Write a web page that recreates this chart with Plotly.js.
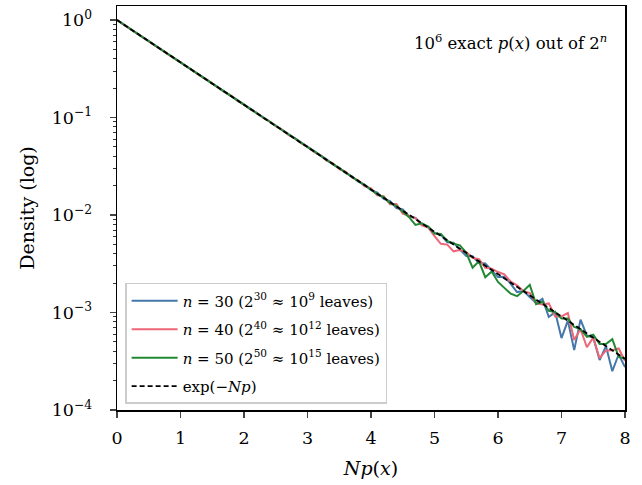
<!DOCTYPE html>
<html>
<head>
<meta charset="utf-8">
<script src="https://cdn.plot.ly/plotly-3.0.1.min.js"></script>
<style>html,body{margin:0;padding:0;background:#fff;}#chart{width:642px;height:485px;}</style>
</head>
<body>
<div id="chart"></div>
<script>
// x grid: Np(x)
const npx = [0,0.1,0.2,0.3,0.4,0.5,0.6,0.7,0.8,0.9,1,1.1,1.2,1.3,1.4,1.5,1.6,1.7,1.8,1.9,2,2.1,2.2,2.3,2.4,2.5,2.6,2.7,2.8,2.9,3,3.1,3.2,3.3,3.4,3.5,3.6,3.7,3.8,3.9,4,4.1,4.2,4.3,4.4,4.5,4.6,4.7,4.8,4.9,5,5.1,5.2,5.3,5.4,5.5,5.6,5.7,5.8,5.9,6,6.1,6.2,6.3,6.4,6.5,6.6,6.7,6.8,6.9,7,7.1,7.2,7.3,7.4,7.5,7.6,7.7,7.8,7.9,8];

const densN30 = [1.000,0.905,0.817,0.742,0.669,0.607,0.548,0.497,0.448,0.407,
0.367,0.333,0.302,0.272,0.247,0.223,0.202,0.182,0.166,0.149,
0.135,0.123,0.110,0.1006,0.0905,0.0823,0.0740,0.0674,0.0605,0.0553,
0.0495,0.0453,0.0404,0.0372,0.0330,0.0305,0.0270,0.0250,0.0220,0.0205,
0.0180,0.0170,0.0146,0.0139,0.0118,0.0114,0.0097,0.00935,0.00800,0.00760,
0.00654,0.00628,0.00524,0.00519,0.00443,0.00380,0.00377,0.00322,0.00318,0.00269,
0.00231,0.00233,0.00197,0.00162,0.00166,0.00144,0.00125,0.00138,0.000900,0.00101,
0.000547,0.000825,0.000411,0.000845,0.000580,0.000553,0.000325,0.000453,0.000250,0.000371,0.000275];

const densN40 = [1.000,0.903,0.820,0.739,0.672,0.605,0.550,0.495,0.450,0.405,
0.369,0.331,0.302,0.271,0.248,0.222,0.203,0.181,0.167,0.148,
0.136,0.121,0.112,0.0995,0.0915,0.0815,0.0748,0.0665,0.0613,0.0545,
0.0502,0.0443,0.0412,0.0362,0.0338,0.0296,0.0278,0.0243,0.0227,0.0197,
0.0188,0.0159,0.0156,0.0129,0.0130,0.0103,0.0098,0.00928,0.00782,0.00745,
0.00607,0.00506,0.00497,0.00424,0.00438,0.00417,0.00363,0.00352,0.00288,0.00282,
0.00260,0.00246,0.00207,0.00190,0.00166,0.00158,0.00125,0.00121,0.00124,0.00091,
0.000912,0.000990,0.000523,0.000676,0.000440,0.000553,0.000340,0.000408,0.000410,0.000427,0.000318];

const densN50 = [1.000,0.904,0.818,0.740,0.671,0.606,0.548,0.497,0.449,0.406,
0.368,0.332,0.301,0.273,0.246,0.223,0.202,0.183,0.165,0.150,
0.135,0.122,0.111,0.1000,0.0910,0.0818,0.0745,0.0670,0.0610,0.0548,
0.0496,0.0452,0.0406,0.0370,0.0332,0.0303,0.0272,0.0248,0.0222,0.0203,
0.0183,0.0163,0.0153,0.0132,0.0124,0.0108,0.0095,0.00792,0.00823,0.00760,
0.00647,0.00641,0.00541,0.00509,0.00488,0.00409,0.00288,0.00335,0.00230,0.00263,
0.00206,0.00179,0.00156,0.00147,0.00166,0.00192,0.00122,0.00129,0.00104,0.00101,
0.000866,0.000866,0.000710,0.000676,0.000562,0.000592,0.000475,0.000476,0.000533,0.000352,0.000335];

// reference curve exp(-Np): straight on log scale, endpoints
const refX = [0, 8];
const refY = [1.0, 0.000335];

const seriesNames = [
  '<i>n</i> = 30 (2<sup>30</sup> ≈ 10<sup>9</sup> leaves)',
  '<i>n</i> = 40 (2<sup>40</sup> ≈ 10<sup>12</sup> leaves)',
  '<i>n</i> = 50 (2<sup>50</sup> ≈ 10<sup>15</sup> leaves)',
  'exp(−<i>Np</i>)'
];
const colors = ['#4477AA', '#EE6677', '#228833', '#000000'];

const xTickVals = [0,1,2,3,4,5,6,7,8];
const yTickVals = [1, 0.1, 0.01, 0.001, 0.0001];
const yTickText = ['10<sup>0</sup>', '10<sup>−1</sup>', '10<sup>−2</sup>', '10<sup>−3</sup>', '10<sup>−4</sup>'];

const minorVals = [];
for (let e = -4; e <= 0; e++) {
  for (let m = 2; m <= 9; m++) minorVals.push(m * Math.pow(10, e));
}

const serif = 'DejaVu Serif, serif';

const traces = [
  {x: npx, y: densN30, name: seriesNames[0], legendgroup: 'a', mode: 'lines', line: {color: colors[0], width: 2}},
  {x: npx, y: densN40, name: seriesNames[1], legendgroup: 'b', mode: 'lines', line: {color: colors[1], width: 2}},
  {x: npx, y: densN50, name: seriesNames[2], legendgroup: 'c', mode: 'lines', line: {color: colors[2], width: 2}},
  {x: refX, y: refY, name: seriesNames[3], legendgroup: 'd', mode: 'lines', line: {color: colors[3], width: 1.8, dash: '5px,3px'}}
];

const layout = {
  width: 642, height: 485,
  margin: {l: 117, r: 17, t: 6, b: 75},
  paper_bgcolor: '#ffffff', plot_bgcolor: '#ffffff',
  font: {family: serif, color: '#000', size: 17},
  showlegend: true,
  legend: {
    x: 0.016, y: 0.015, xanchor: 'left', yanchor: 'bottom',
    bgcolor: 'rgba(255,255,255,0.9)', bordercolor: '#cccccc', borderwidth: 1.5,
    font: {family: serif, size: 15, color: '#000'},
    tracegroupgap: 6, itemwidth: 46
  },
  xaxis: {
    range: [0, 8], tickvals: xTickVals, ticks: 'outside', ticklen: 6, tickwidth: 1.2,
    ticklabelstandoff: 5,
    showline: true, linecolor: '#000', linewidth: 1.5, mirror: true,
    showgrid: false, zeroline: false,
    tickfont: {family: serif, size: 17.5},
    title: {text: '<i>Np</i>(<i>x</i>)', font: {family: serif, size: 19}, standoff: 15}
  },
  yaxis: {
    type: 'log', range: [-4, 0.144],
    tickvals: yTickVals, ticktext: yTickText,
    ticks: 'outside', ticklen: 6, tickwidth: 1.2,
    ticklabelstandoff: 14,
    minor: {tickvals: minorVals, ticks: 'outside', ticklen: 3, tickwidth: 0.8, tickcolor: '#000', showgrid: false},
    showline: true, linecolor: '#000', linewidth: 1.5, mirror: true,
    showgrid: false, zeroline: false,
    tickfont: {family: serif, size: 17.5},
    title: {text: 'Density (log)', font: {family: serif, size: 19}, standoff: 12}
  },
  annotations: [{
    xref: 'paper', yref: 'paper', x: 0.774, y: 0.91, xanchor: 'center', yanchor: 'middle',
    showarrow: false,
    text: '10<sup>6</sup> exact <i>p</i>(<i>x</i>) out of 2<sup><i>n</i></sup>',
    font: {family: serif, size: 16.5, color: '#000'}
  }]
};

Plotly.newPlot('chart', traces, layout, {displayModeBar: false, staticPlot: true});
</script>
</body>
</html>
